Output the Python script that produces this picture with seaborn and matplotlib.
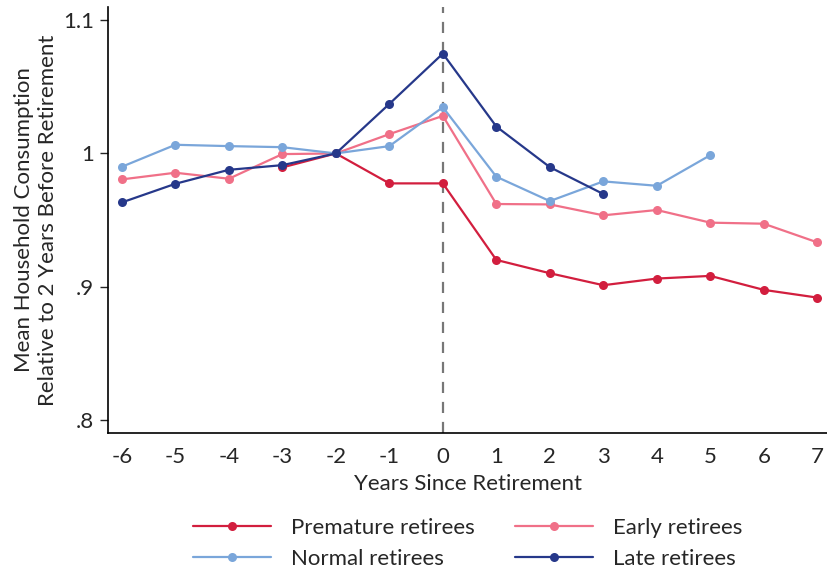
import numpy as np
import pandas as pd
import seaborn as sns
import matplotlib.pyplot as plt

# years relative to retirement
years = list(range(-6, 8))

premature = [None, None, None, 0.9895, 1.0, 0.9775, 0.9775, 0.920, 0.910, 0.901, 0.906, 0.908, 0.8975, 0.8917]
early = [0.9805, 0.9855, 0.981, 0.9995, 1.0, 1.0145, 1.0282, 0.962, 0.9617, 0.9535, 0.9575, 0.948, 0.9472, 0.9332]
normal = [0.990, 1.0065, 1.0055, 1.0047, 1.0, 1.0055, 1.0347, 0.9825, 0.9642, 0.979, 0.9757, 0.9987, None, None]
late = [0.9632, 0.9772, 0.9877, 0.9912, 1.0, 1.0372, 1.075, 1.0202, 0.9897, 0.9695, None, None, None, None]

groups = ["Premature retirees", "Early retirees", "Normal retirees", "Late retirees"]
colors = ["#D21E3E", "#F07088", "#7AA6DA", "#26388A"]

rows = []
for g, vals in zip(groups, [premature, early, normal, late]):
    for y, v in zip(years, vals):
        if v is not None:
            rows.append({"year": y, "value": v, "group": g})
df = pd.DataFrame(rows)

sns.set_style("white")
plt.rcParams['font.family'] = ['Lato', 'DejaVu Sans']

fig = plt.figure(figsize=(8.28, 5.7), dpi=100)
ax = fig.add_axes([0.1304, 0.2404, 0.8696, 0.7473])

ax.axvline(0, color="#777777", linestyle=(0, (5, 4)), linewidth=1.6, zorder=1)

sns.lineplot(data=df, x="year", y="value", hue="group", hue_order=groups,
             palette=colors, marker="o", markersize=6.5, markeredgewidth=0,
             linewidth=1.6, ax=ax, zorder=3)

ax.set_xlim(-6.26, 7.2)
ax.set_ylim(0.79, 1.11)
ax.set_xticks(years)
ax.set_xticklabels([str(y) for y in years])
ax.set_yticks([0.8, 0.9, 1.0, 1.1])
ax.set_yticklabels([".8", ".9", "1", "1.1"])
ax.tick_params(axis="y", length=6, width=1, direction="out", labelsize=16, left=True, pad=4)
ax.tick_params(axis="x", length=0, labelsize=16, pad=10)

for s in ["top", "right"]:
    ax.spines[s].set_visible(False)
for s in ["left", "bottom"]:
    ax.spines[s].set_color("black")
    ax.spines[s].set_linewidth(1.2)

ax.set_xlabel("Years Since Retirement", fontsize=16, labelpad=5)
ax.set_ylabel("Mean Household Consumption\nRelative to 2 Years Before Retirement", fontsize=16, labelpad=4)

# row-major legend order: Premature, Early / Normal, Late
handles, labels = ax.get_legend_handles_labels()
order = [0, 2, 1, 3]
ax.get_legend().remove()
fig.legend([handles[i] for i in order], [labels[i] for i in order],
           loc="center", bbox_to_anchor=(0.565, 0.047), ncol=2,
           frameon=False, fontsize=16, handlelength=3.5, columnspacing=1.8,
           handletextpad=0.9, labelspacing=0.5)

fig.savefig("out.png", dpi=100)
